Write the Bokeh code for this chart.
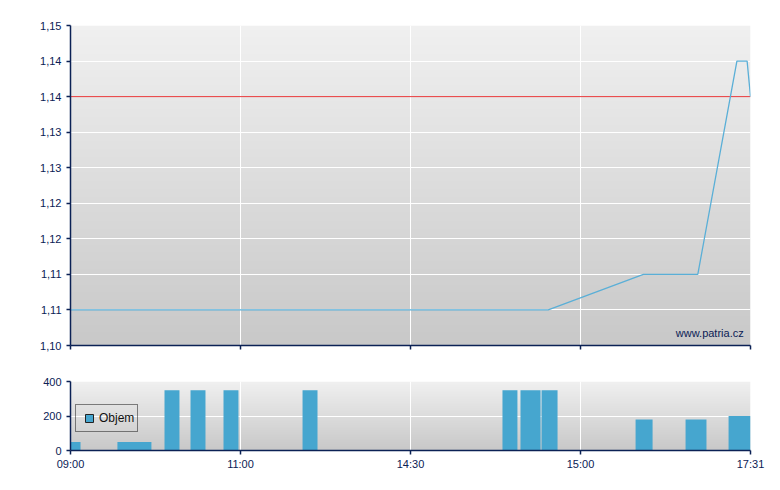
import numpy as np
from bokeh.plotting import figure
from bokeh.layouts import column
from bokeh.models import Range1d, FixedTicker, Label, Legend, LegendItem
from bokeh.embed import file_html
from bokeh.resources import INLINE

# ---- data ----
x_tick_pos = [0, 1, 2, 3, 4]
x_tick_labels = ["09:00", "11:00", "14:30", "15:00", "17:31"]

price_ticks = [1.104, 1.109, 1.114, 1.119, 1.124, 1.129, 1.134, 1.139, 1.144, 1.149]
price_tick_labels = ["1,10", "1,11", "1,11", "1,12", "1,12", "1,13", "1,13", "1,14", "1,14", "1,15"]

price_x = [0.0, 2.81, 3.37, 3.69, 3.92, 3.98, 4.0]
price_y = [1.109, 1.109, 1.114, 1.114, 1.144, 1.144, 1.139]
prev_close = 1.139

vol_left = [0.0, 0.276, 0.553, 0.706, 0.900, 1.365, 2.541, 2.647, 2.771, 3.324, 3.618, 3.871]
vol_right = [0.059, 0.476, 0.641, 0.794, 0.988, 1.453, 2.629, 2.765, 2.865, 3.424, 3.741, 4.0]
vol = [50, 50, 350, 350, 350, 350, 350, 350, 350, 180, 180, 200]
vol_ticks = [0, 200, 400]

NAVY = "#0b2155"
LINE_C = "#5aafd7"
BAR_C = "#46a6cf"
FONT = "Liberation Sans"


def gradient(n=256):
    img = np.empty((n, 1), dtype=np.uint32)
    view = img.view(dtype=np.uint8).reshape((n, 1, 4))
    for i in range(n):
        t = i / (n - 1)
        c = int(round(0xc8 + (0xf0 - 0xc8) * t))
        view[i, 0, :] = [c, c, c, 255]
    return img


def style(p):
    p.background_fill_color = "white"
    p.border_fill_color = "white"
    p.outline_line_color = None
    for ax in (p.xaxis[0], p.yaxis[0]):
        ax.axis_line_color = NAVY
        ax.axis_line_width = 1.5
        ax.major_tick_line_color = NAVY
        ax.major_tick_line_width = 1.5
        ax.major_tick_out = 4
        ax.major_tick_in = 0
        ax.minor_tick_line_color = None
        ax.major_label_text_color = NAVY
        ax.major_label_text_font = FONT
        ax.major_label_text_font_size = "11px"
    p.xgrid.grid_line_color = "white"
    p.ygrid.grid_line_color = "white"
    p.xgrid.grid_line_width = 1
    p.ygrid.grid_line_width = 1


x0, x1 = x_tick_pos[0], x_tick_pos[-1]
y0, y1 = price_ticks[0], price_ticks[-1]

p = figure(width=772, height=362, output_backend="svg", toolbar_location=None,
           x_range=Range1d(x0, x1), y_range=Range1d(y0, y1),
           min_border_left=70, min_border_right=22, min_border_top=25, min_border_bottom=17)
style(p)
bg = p.image_rgba(image=[gradient()], x=x0, y=y0, dw=x1 - x0, dh=y1 - y0)
bg.level = "image"
p.xaxis.ticker = FixedTicker(ticks=x_tick_pos)
p.xaxis.major_label_text_color = None
p.xaxis.major_label_standoff = 0
p.yaxis.ticker = FixedTicker(ticks=price_ticks)
p.yaxis.major_label_overrides = {t: l for t, l in zip(price_ticks, price_tick_labels)}
p.ygrid.ticker = FixedTicker(ticks=price_ticks)
p.xgrid.ticker = FixedTicker(ticks=x_tick_pos)

p.line(x=[x0, x1], y=[prev_close, prev_close], line_color="#e8383a", line_width=1)
p.line(x=price_x, y=price_y, line_color=LINE_C, line_width=1.3)

p.add_layout(Label(x=3.96, y=1.1058, text="www.patria.cz", text_align="right",
                   text_baseline="middle", text_font=FONT, text_font_size="11px",
                   text_color=NAVY))

v0, v1 = vol_ticks[0], vol_ticks[-1]
p2 = figure(width=772, height=120, output_backend="svg", toolbar_location=None,
            x_range=Range1d(x0, x1), y_range=Range1d(v0, v1),
            min_border_left=70, min_border_right=22, min_border_top=19, min_border_bottom=32)
style(p2)
bg2 = p2.image_rgba(image=[gradient()], x=x0, y=v0, dw=x1 - x0, dh=v1 - v0)
bg2.level = "image"
p2.xaxis.ticker = FixedTicker(ticks=x_tick_pos)
p2.xaxis.major_label_overrides = {t: l for t, l in zip(x_tick_pos, x_tick_labels)}
p2.xaxis.major_label_standoff = 3
p2.yaxis.ticker = FixedTicker(ticks=vol_ticks)
p2.ygrid.ticker = FixedTicker(ticks=vol_ticks)
p2.xgrid.ticker = FixedTicker(ticks=x_tick_pos)

p2.quad(left=vol_left, right=vol_right, bottom=[0] * len(vol), top=vol,
        fill_color=BAR_C, line_color=None)
dummy = p2.scatter(x=[float("nan")], y=[float("nan")], marker="square", size=8,
                   fill_color=BAR_C, line_color="#222222")

legend = Legend(items=[LegendItem(label="Objem", renderers=[dummy])], location=(5, 18),
                border_line_color="#111111", border_line_width=1,
                background_fill_alpha=0, label_text_font=FONT, label_text_font_size="12px",
                label_text_color="#111111", glyph_width=20, glyph_height=20,
                label_standoff=0, padding=3, margin=0, label_height=16)
p2.add_layout(legend, "center")

layout = column(p, p2)
open("out.html", "w").write(file_html(layout, INLINE))
